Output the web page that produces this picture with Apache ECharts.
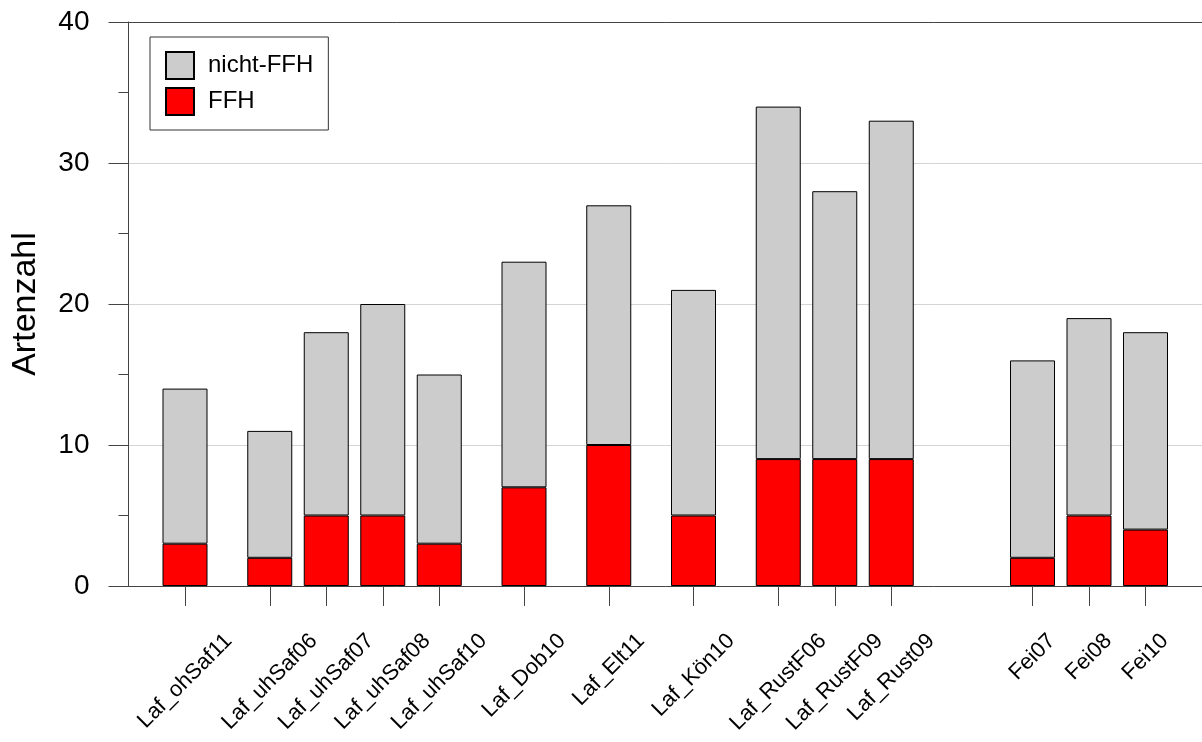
<!DOCTYPE html>
<html><head><meta charset="utf-8">
<script src="https://cdn.jsdelivr.net/npm/echarts@6/dist/echarts.min.js"></script>
<style>html,body{margin:0;padding:0;background:#fff}#c{width:1202px;height:742px}</style>
</head><body><div id="c"></div>
<script>
// ---- data ----
const categories = ['Laf_ohSaf11','Laf_uhSaf06','Laf_uhSaf07','Laf_uhSaf08','Laf_uhSaf10','Laf_Dob10','Laf_Elt11','Laf_Kön10','Laf_RustF06','Laf_RustF09','Laf_Rust09','Fei07','Fei08','Fei10'];
const ffh = [3,2,5,5,3,7,10,5,9,9,9,2,5,4];
const nichtFFH = [11,9,13,15,12,16,17,16,25,19,24,14,14,14];
const seriesNames = ['nicht-FFH','FFH'];
const yTickLabels = [0,10,20,30,40];

// ---- layout (slot of each bar along the x axis, gaps between groups) ----
const slots = [2,5,7,9,11,14,17,20,23,25,27,32,34,36];
const SLOT_COUNT = 39;

const FONT = '"Liberation Sans", Arial, Helvetica, sans-serif';
const axisData = Array.from({length: SLOT_COUNT}, () => '');
slots.forEach((s, i) => { axisData[s] = categories[i]; });
const ffhData = Array.from({length: SLOT_COUNT}, () => '-');
const nichtData = Array.from({length: SLOT_COUNT}, () => '-');
slots.forEach((s, i) => { ffhData[s] = ffh[i]; nichtData[s] = nichtFFH[i]; });

const mctx = document.createElement('canvas').getContext('2d');
function measure(t, size) { mctx.font = size + 'px ' + FONT; return mctx.measureText(t).width; }

const chart = echarts.init(document.getElementById('c'));
chart.setOption({
  animation: false,
  backgroundColor: '#fff',
  textStyle: {fontFamily: FONT},
  grid: {left: 128.5, top: 22, width: 1076, height: 564},
  legend: {
    data: seriesNames, orient: 'vertical', left: 150, top: 37,
    padding: [14, 15, 14, 15], itemGap: 7, itemWidth: 28, itemHeight: 27,
    borderColor: '#333', borderWidth: 1, backgroundColor: '#fff',
    icon: 'rect',
    textStyle: {fontSize: 24, color: '#000', fontFamily: FONT, padding: [0, 0, 0, 9]}
  },
  xAxis: [{
    type: 'category', data: axisData, boundaryGap: false,
    axisLine: {show: true, lineStyle: {color: '#444', width: 1}},
    axisTick: {show: true, length: 20, interval: (i) => slots.indexOf(i) >= 0, lineStyle: {color: '#444'}},
    axisLabel: {show: false},
    splitLine: {show: false}
  }, {
    type: 'category', data: axisData, boundaryGap: false, position: 'top',
    axisLine: {show: true, lineStyle: {color: '#444', width: 1}},
    axisTick: {show: false}, axisLabel: {show: false}, splitLine: {show: false}
  }],
  yAxis: {
    type: 'value', min: 0, max: 40, interval: 10,
    name: 'Artenzahl', nameLocation: 'middle', nameGap: 86, nameRotate: 90,
    nameTextStyle: {fontSize: 34, color: '#000', fontFamily: FONT},
    axisLine: {show: true, lineStyle: {color: '#444'}},
    axisTick: {show: true, length: 20, lineStyle: {color: '#444'}},
    minorTick: {show: true, splitNumber: 2, length: 10, lineStyle: {color: '#444'}},
    axisLabel: {fontSize: 28, color: '#000', margin: 39, fontFamily: FONT,
      formatter: (v) => yTickLabels.indexOf(v) >= 0 ? String(v) : ''},
    splitLine: {show: true, lineStyle: {color: '#d4d4d4', width: 1}}
  },
  series: [
    {name: 'FFH', type: 'bar', stack: 'total', data: ffhData, barWidth: 45,
      itemStyle: {color: '#ff0000', borderColor: '#000', borderWidth: 1}},
    {name: 'nicht-FFH', type: 'bar', stack: 'total', data: nichtData, barWidth: 45,
      itemStyle: {color: '#cccccc', borderColor: '#000', borderWidth: 1}},
    {name: 'labels', type: 'custom', silent: true, z: 5,
      data: categories.map((c, i) => [slots[i], 0, i]),
      encode: {x: 0, y: 1},
      renderItem: function (params, api) {
        const i = api.value(2);
        const p = api.coord([api.value(0), 0]);
        const text = categories[i];
        const w = measure(text, 22);
        const d = 0.3535 * (w + 16);
        return {
          type: 'text', x: p[0], y: p[1] + 46 + d, rotation: Math.PI / 4,
          style: {text: text, fontSize: 22, fontFamily: FONT, fill: '#000', align: 'center', verticalAlign: 'middle'}
        };
      }
    }
  ]
});
</script>
</body></html>
